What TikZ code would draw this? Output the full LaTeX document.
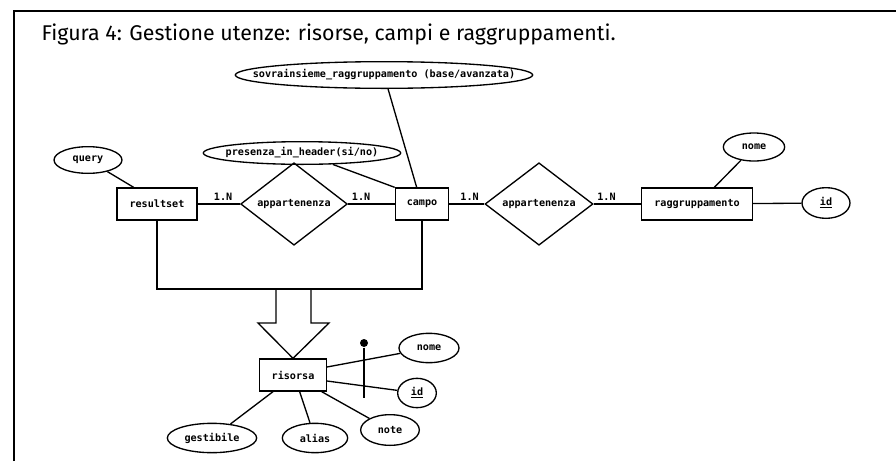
\documentclass[tikz,border=0pt]{standalone}
\usepackage{fontspec}
\setmainfont{Fira Sans}
\setmonofont{DejaVu Sans Mono}
\usetikzlibrary{arrows.meta, positioning, shapes.geometric}

\newcommand{\erfont}{\ttfamily\bfseries\fontsize{7.6}{9}\selectfont}
\newcommand{\attrtxt}[1]{\makebox[0pt]{#1}}

\begin{document}
\begin{tikzpicture}[
  x=0.75pt, y=-0.75pt,
  line width=1pt,
  entity/.style={draw, rectangle, inner sep=0pt, font=\erfont, minimum height=24pt},
  relation/.style={draw, diamond, inner sep=0pt, font=\erfont, minimum width=80pt, minimum height=47pt},
  attr/.style={draw, ellipse, inner sep=0pt, font=\erfont, minimum height=22pt},
  card/.style={font=\erfont, above=1pt, inner sep=1pt},
  frame/.style={line width=1.3pt}
]
\useasboundingbox (0,0) rectangle (896,461);
\draw[frame] (14,461) -- (14,11) -- (896,11);
\node[anchor=base west, inner sep=0pt, font=\fontsize{16}{19}\selectfont] (title) at (41,40)
  {Figura 4: Gestione utenze: risorse, campi e raggruppamenti.};

% entities and relations
\node[entity, minimum width=60pt] (resultset) at (157,204) {resultset};
\node[relation] (app1) at (294,204) {appartenenza};
\node[entity, minimum width=40pt] (campo) at (422,204) {campo};
\node[relation, minimum width=81pt, minimum height=48pt] (app2) at (539,204) {appartenenza};
\node[entity, minimum width=83pt] (ragg) at (697,204) {raggruppamento};
\node[entity, minimum width=50pt] (risorsa) at (293,375) {risorsa};

% attributes
\node[attr, minimum width=223pt, minimum height=20pt] (sovra) at (384,75) {\attrtxt{sovrainsieme\_raggruppamento (base/avanzata)}};
\node[attr, minimum width=148pt, minimum height=17pt] (presenza) at (302,153) {\attrtxt{presenza\_in\_header(si/no)}};
\node[attr, minimum width=51pt, minimum height=20pt] (query) at (88,160) {query};
\node[attr, minimum width=46pt, minimum height=21pt] (nome) at (754,147) {nome};
\node[attr, minimum width=36pt, minimum height=23pt] (id) at (826,203) {\underline{id}};
\node[attr, minimum width=45pt] (nomeris) at (429,348) {nome};
\node[attr, minimum width=29pt] (idris) at (417,393) {\underline{id}};
\node[attr, minimum width=44pt, minimum height=23pt] (note) at (390,430) {note};
\node[attr, minimum width=49pt] (alias) at (315,438) {alias};
\node[attr, minimum width=67pt] (gestibile) at (212,438) {gestibile};

% identifier marker
\node[circle, fill, inner sep=0pt, minimum size=6pt] (iddot) at (364,343) {};
\coordinate (idend) at (364,398);
\draw (iddot) -- (idend);

% relationships
\draw (resultset) -- node[card, pos=0.6] {1.N} (app1);
\draw (app1) -- node[card, pos=0.28] {1.N} (campo);
\draw (campo) -- node[card, pos=0.58] {1.N} (app2);
\draw (app2) -- node[card, pos=0.27] {1.N} (ragg);

% attribute links
\draw (query) -- ([xshift=13pt]resultset.north west);
\draw (presenza) -- (campo.north west);
\draw (sovra) -- ([xshift=-4pt]campo.north);
\draw (nome) -- ([xshift=13pt]ragg.north);
\draw (ragg) -- (id);
\draw ([yshift=6pt]risorsa.east) -- (nomeris);
\draw ([yshift=-4.5pt]risorsa.east) -- (idris);
\draw ([xshift=-4pt]risorsa.south east) -- (note);
\draw ([xshift=5pt]risorsa.south) -- (alias);
\draw ([xshift=-15pt]risorsa.south) -- (gestibile);

% generalisation
\coordinate (merge) at (293,289);
\draw (resultset.south) |- (merge) -| (campo.south);
\draw (276,289) -- (276,323) -- (258,323) -- (risorsa.north) -- (329,323) -- (311,323) -- (311,289);
\end{tikzpicture}
\end{document}
